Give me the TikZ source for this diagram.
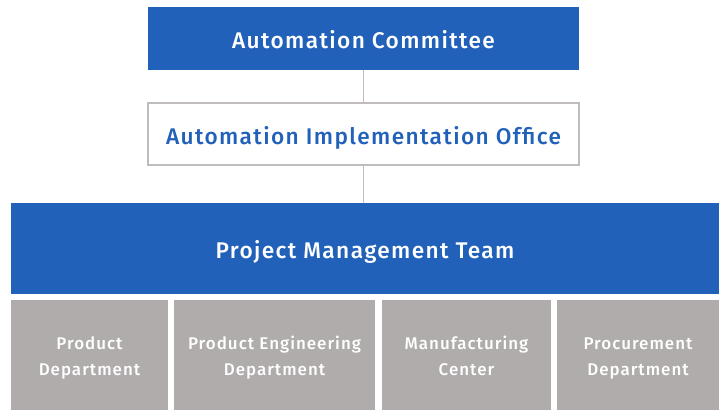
\documentclass[tikz,border=0pt]{standalone}
\usepackage{fontspec}
\setmainfont{Fira Sans}[LetterSpace=6,UprightFont=* Medium,BoldFont=* SemiBold]
\definecolor{mainblue}{HTML}{2161BA}
\definecolor{deptgray}{HTML}{B0ACAC}
\definecolor{linegray}{HTML}{C0BCBC}
\begin{document}
\begin{tikzpicture}[x=0.75pt,y=-0.75pt,
  box/.style={anchor=north west,inner sep=0pt,outer sep=0pt,align=center},
  titlefont/.style={font=\fontsize{17}{20}\selectfont,text height=15pt,text depth=0pt},
  bluebox/.style={box,fill=mainblue,text=white,titlefont},
  deptbox/.style={box,fill=deptgray,text=white,font=\fontsize{12.7}{19.5}\selectfont,minimum height=110*0.75pt},
  conn/.style={draw=linegray,line width=0.9pt}]
\useasboundingbox (0,0) rectangle (720,410);
\node[bluebox,minimum width=431*0.75pt,minimum height=63*0.75pt] (ac) at (148,7) {Automation Committee};
\node[box,draw=linegray,line width=0.9pt,fill=white,text=mainblue,titlefont,minimum width=431*0.75pt,minimum height=62*0.75pt] (aio) at (148,103) {Automation Implementation Office};
\node[bluebox,minimum width=708*0.75pt,minimum height=91*0.75pt] (pmt) at (11,203) {Project Management Team};
\node[deptbox,minimum width=157*0.75pt] (d1) at (11,300) {\rule{0pt}{17.4pt}Product\\Department\strut};
\node[deptbox,minimum width=201*0.75pt] (d2) at (174,300) {\rule{0pt}{17.4pt}Product Engineering\\Department\strut};
\node[deptbox,minimum width=169*0.75pt] (d3) at (382,300) {\rule{0pt}{17.4pt}Manufacturing\\Center\strut};
\node[deptbox,minimum width=162*0.75pt] (d4) at (557,300) {\rule{0pt}{17.4pt}Procurement\\Department\strut};
\draw[conn] (ac.south -| aio.north) -- (aio.north);
\draw[conn] (aio.south) -- (aio.south |- pmt.north);
\end{tikzpicture}
\end{document}
